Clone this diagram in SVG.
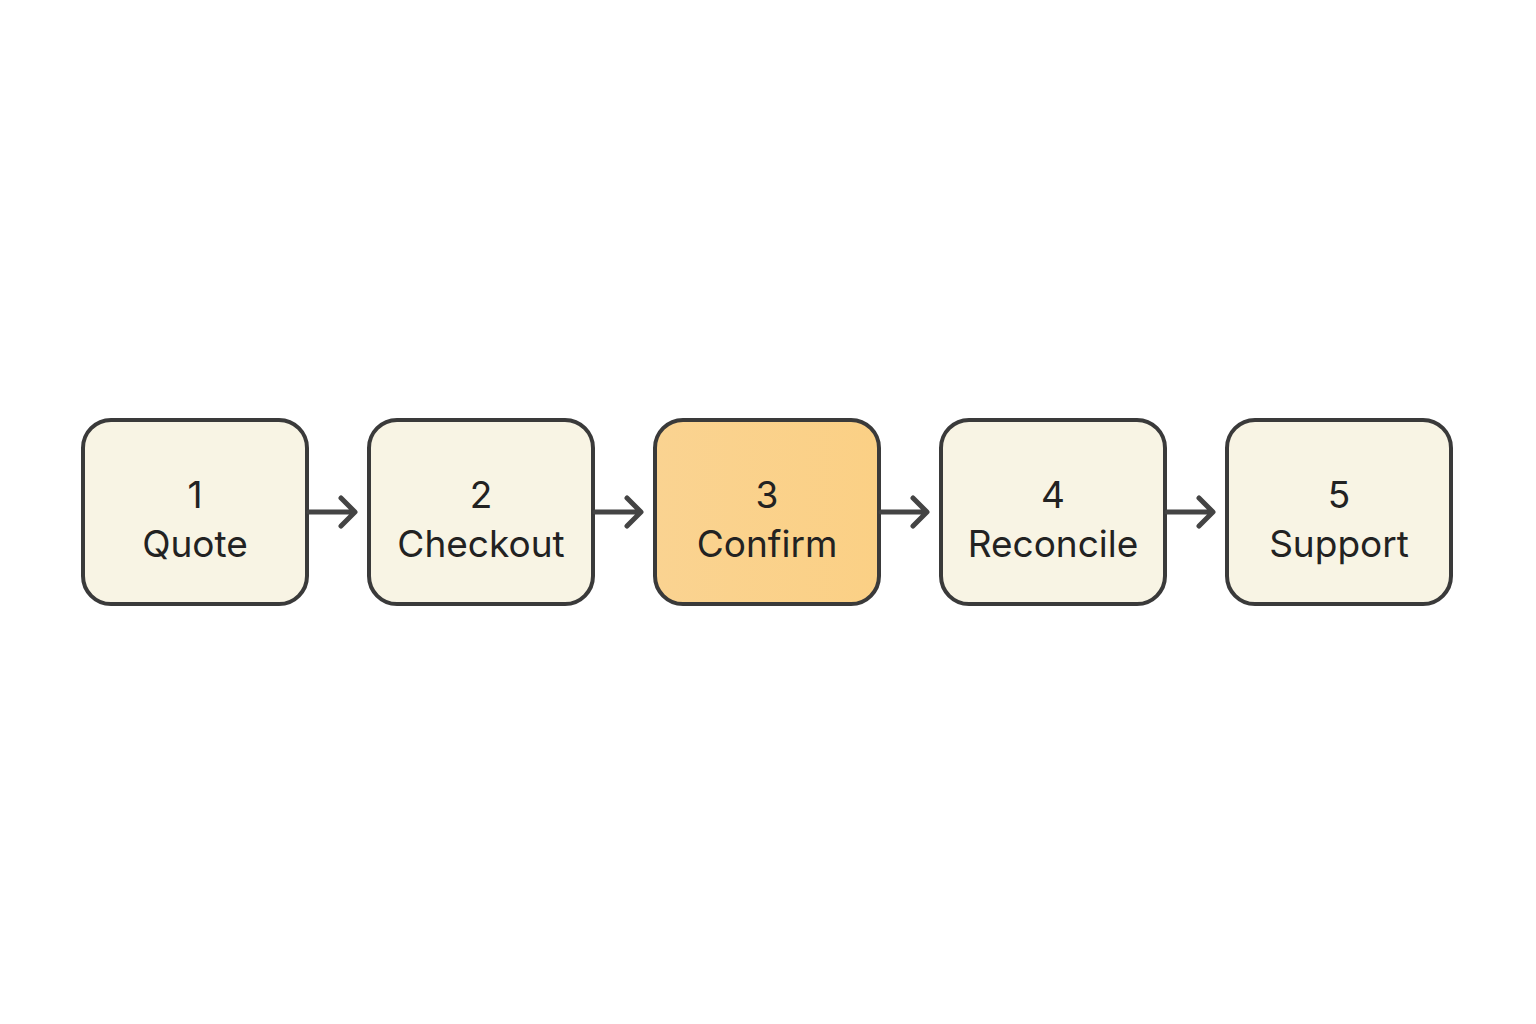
<svg xmlns="http://www.w3.org/2000/svg" width="1536" height="1024" viewBox="0 0 1536 1024">
<style>
.b{fill:#f8f4e4;stroke:#3a3a3a;stroke-width:4}
.h{fill:url(#g);stroke:#3a3a3a;stroke-width:4}
.t{font-family:Inter,"Liberation Sans",sans-serif;font-size:37px;fill:#222;text-anchor:middle}
.c{stroke:#444;stroke-width:5;fill:none;stroke-linecap:round;stroke-linejoin:round}
</style>
<defs><linearGradient id="g" x1="0" x2="1"><stop offset="0" stop-color="#fad391"/><stop offset="1" stop-color="#fbd085"/></linearGradient></defs>
<rect width="1536" height="1024" fill="#fff"/>
<g id="n1"><rect class="b" x="83" y="420" width="224" height="184" rx="28"/><text class="t" x="195" y="508">1</text><text class="t" x="195" y="557">Quote</text></g>
<g id="n2"><rect class="b" x="369" y="420" width="224" height="184" rx="28"/><text class="t" x="481" y="508">2</text><text class="t" x="481" y="557">Checkout</text></g>
<g id="n3"><rect class="h" x="655" y="420" width="224" height="184" rx="28"/><text class="t" x="767" y="508">3</text><text class="t" x="767" y="557">Confirm</text></g>
<g id="n4"><rect class="b" x="941" y="420" width="224" height="184" rx="28"/><text class="t" x="1053" y="508">4</text><text class="t" x="1053" y="557">Reconcile</text></g>
<g id="n5"><rect class="b" x="1227" y="420" width="224" height="184" rx="28"/><text class="t" x="1339" y="508">5</text><text class="t" x="1339" y="557">Support</text></g>
<g id="connectors">
<path class="c" d="M309 512H354M341 498L355 512L341 526"/>
<path class="c" d="M595 512H640M627 498L641 512L627 526"/>
<path class="c" d="M881 512H926M913 498L927 512L913 526"/>
<path class="c" d="M1167 512H1212M1199 498L1213 512L1199 526"/>
</g>
</svg>
